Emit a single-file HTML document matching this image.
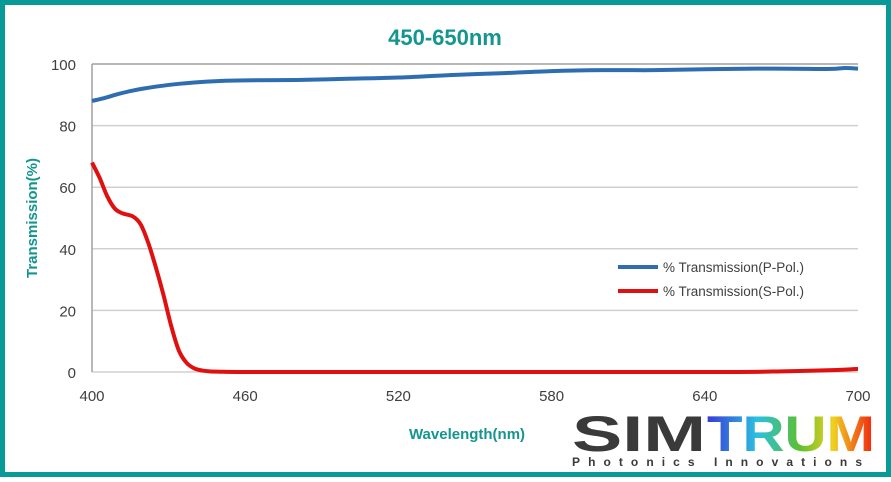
<!DOCTYPE html>
<html><head><meta charset="utf-8"><style>
body{margin:0;background:#fff;}
svg text{font-family:"Liberation Sans",sans-serif;}
</style></head><body>
<svg width="891" height="477" viewBox="0 0 891 477">
<defs><linearGradient id="rg" x1="0" x2="1"><stop offset="0" stop-color="#3a3ad8"/><stop offset="0.3" stop-color="#2ac0e0"/><stop offset="0.55" stop-color="#5cc030"/><stop offset="0.75" stop-color="#f0d020"/><stop offset="1" stop-color="#f02010"/></linearGradient></defs>
<rect x="2.5" y="2.5" width="886" height="472" fill="#fff" stroke="#079a96" stroke-width="5"/>
<text x="445" y="45" text-anchor="middle" font-size="22" font-weight="bold" fill="#14958f">450-650nm</text>
<g id="grid"></g>
<g id="xt"></g><g id="yt"></g>
<text transform="translate(37,218) rotate(-90)" text-anchor="middle" font-size="15" font-weight="bold" fill="#14958f">Transmission(%)</text>
<text x="467" y="439" text-anchor="middle" font-size="15" font-weight="bold" fill="#14958f">Wavelength(nm)</text>
<path id="pl" fill="none" stroke="#2e6eb0" stroke-width="4"/>
<path id="sl" fill="none" stroke="#e01010" stroke-width="4"/>
<g>
<line x1="618" y1="267" x2="658" y2="267" stroke="#2e6eb0" stroke-width="4"/>
<text x="663" y="272" font-size="13.5" fill="#404040">% Transmission(P-Pol.)</text>
<line x1="618" y1="291" x2="658" y2="291" stroke="#e01010" stroke-width="4"/>
<text x="663" y="296" font-size="13.5" fill="#404040">% Transmission(S-Pol.)</text>
</g>
<g>
<text x="572" y="451" font-size="50" font-weight="bold" fill="#3a3a3a" textLength="134" lengthAdjust="spacingAndGlyphs">SIM</text>
<text x="707" y="451" font-size="50" font-weight="bold" fill="url(#rg)" textLength="168" lengthAdjust="spacingAndGlyphs">TRUM</text>
<text x="572" y="466" font-size="12" font-weight="bold" fill="#3a3a3a" textLength="290" lengthAdjust="spacing">Photonics Innovations</text>
</g>
</svg>
<script>
const wl=[400,405,410,415,420,430,440,450,460,480,500,520,540,560,580,600,620,640,660,680,690,695,700];
const pPol=[88,89,90.2,91.2,92,93.2,94,94.5,94.7,94.8,95.2,95.6,96.4,97,97.7,98,98,98.3,98.5,98.4,98.4,98.7,98.5];
const sWl=[400,403,406,409,412,416,419,422,425,428,431,434,437,440,443,446,450,460,500,550,600,650,670,690,700];
const sPol=[68,63,57,53,51.5,50.5,48,42,34,25,15,7,3,1.2,0.5,0.2,0.1,0,0,0,0,0,0.2,0.6,1];
const xTicks=[400,460,520,580,640,700];
const yTicks=[0,20,40,60,80,100];
const X=v=>92+(v-400)/300*766, Y=v=>372-v/100*308;
const ns="http://www.w3.org/2000/svg";
function mk(t,a,p){const e=document.createElementNS(ns,t);for(const k in a)e.setAttribute(k,a[k]);document.getElementById(p).appendChild(e);return e;}
yTicks.forEach(v=>{
 const l=mk('line',{x1:92,x2:858,y1:Y(v),y2:Y(v),stroke:v==100?'#a0a0a0':'#d0d0d0','stroke-width':1.5},'grid');
 
 
 const t=mk('text',{x:76,y:Y(v)+6,'text-anchor':'end','font-size':15,fill:'#404040'},'yt');t.textContent=v;
 
 
});
const ax=mk('line',{x1:92,x2:92,y1:64,y2:372,stroke:'#a0a0a0','stroke-width':1.5},'grid');


xTicks.forEach(v=>{
 const t=mk('text',{x:X(v),y:401,'text-anchor':'middle','font-size':15,fill:'#404040'},'xt');t.textContent=v;
 
 
});
function path(xs,ys){
 const pts=xs.map((x,i)=>[X(x),Y(ys[i])]);
 let d='M'+pts[0];
 for(let i=0;i<pts.length-1;i++){
  const p0=pts[i-1]||pts[i],p1=pts[i],p2=pts[i+1],p3=pts[i+2]||p2;
  d+=' C'+(p1[0]+(p2[0]-p0[0])/6)+','+(p1[1]+(p2[1]-p0[1])/6)+' '+(p2[0]-(p3[0]-p1[0])/6)+','+(p2[1]-(p3[1]-p1[1])/6)+' '+p2;
 }
 return d;
}
document.getElementById('pl').setAttribute('d',path(wl,pPol));
document.getElementById('sl').setAttribute('d',path(sWl,sPol));
</script>
</body></html>
